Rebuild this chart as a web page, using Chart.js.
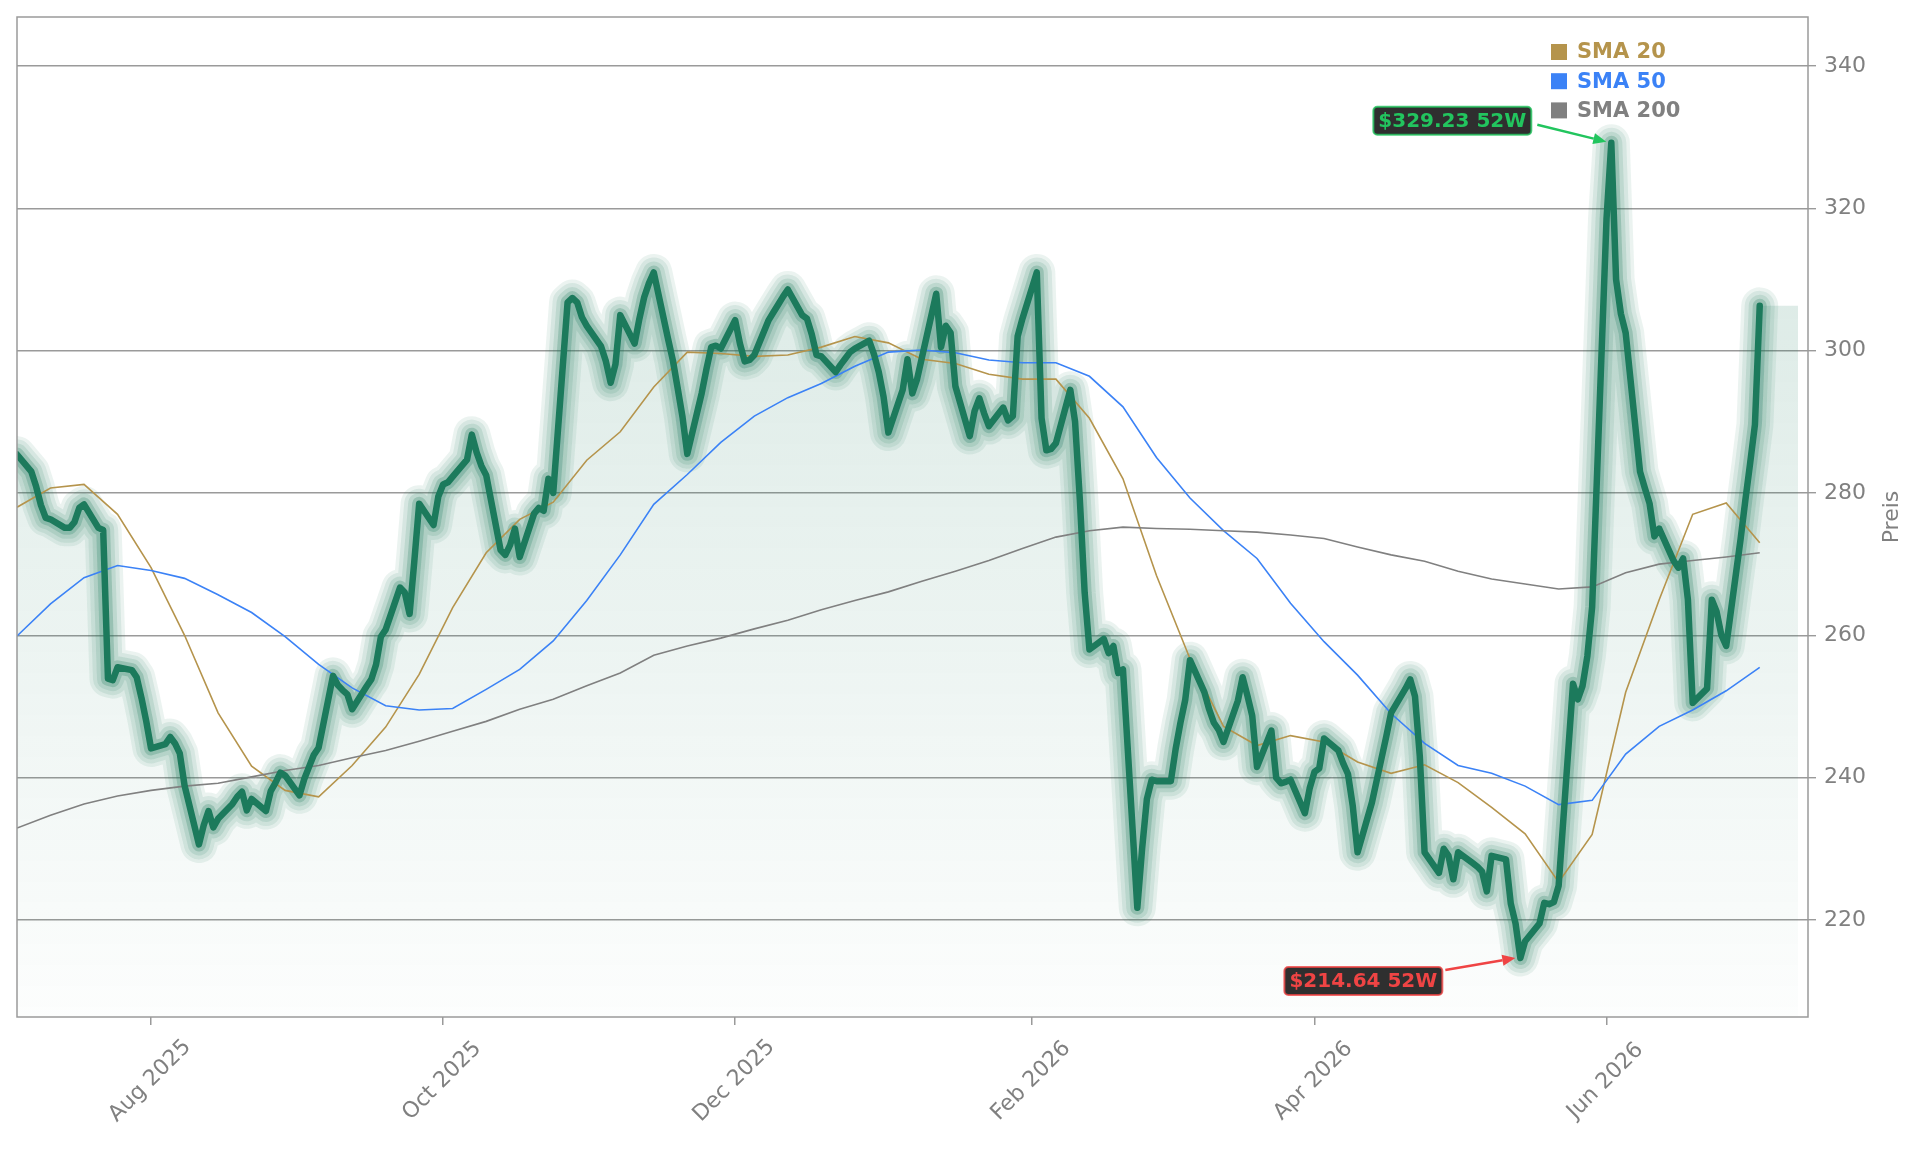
<!DOCTYPE html>
<html>
<head>
<meta charset="utf-8">
<title>Kursverlauf mit SMA</title>
<script src="https://cdn.jsdelivr.net/npm/chart.js@4.4.1/dist/chart.umd.min.js"></script>
<style>
  html, body { margin: 0; padding: 0; background: #fff; }
</style>
</head>
<body>
<canvas id="chart" width="1921" height="1151"></canvas>

<script>
// Schlusskurse je Handelstag (Mo-Fr), ab Fr 04.07.2025
const priceStart = '2025-07-04';
const prices = [
  285.4,
  283.0, 280.9, 278.3, 276.5, 276.3,
  275.1, 275.1, 275.9, 277.9, 278.4,
  275.1, 274.8, 253.9, 253.7, 255.5,
  255.1, 254.1, 251.2, 247.9, 244.1,
  244.7, 245.7, 244.8, 243.4, 238.9,
  230.6, 233.3, 235.3, 233.0, 234.2,
  236.3, 237.3, 238.0, 235.4, 237.0,
  235.3, 238.1, 239.3, 240.7, 240.3,
  237.5, 239.8, 241.5, 243.2, 244.2,
  254.3, 253.0, 252.3, 251.7, 249.6,
  252.8, 253.8, 255.9, 259.8, 260.8,
  266.7, 266.0, 263.0, 270.5, 278.5,
  275.5, 279.5, 281.2, 281.5, 282.3,
  284.7, 288.2, 285.7, 283.8, 282.5,
  272.0, 271.3, 272.7, 275.0, 271.0,
  277.1, 277.9, 277.5, 282.0, 280.0,
  306.8, 307.4, 306.8, 304.7, 303.5,
  300.6, 298.5, 295.5, 298.1, 305.0,
  301.0, 304.5, 307.5, 309.5, 311.0,
  301.6, 298.6, 294.7, 290.7, 285.5,
  294.0, 297.4, 300.5, 300.7, 300.3,
  304.3, 301.0, 298.5, 298.7, 299.4,
  304.3, 305.4, 306.5, 307.6, 308.6,
  305.0, 304.5, 302.3, 299.4, 299.2,
  297.0, 298.0, 298.9, 299.8, 300.3,
  301.4, 299.5, 297.0, 293.5, 288.5,
  294.5, 298.8, 294.0, 296.0, 299.0,
  308.0, 300.5, 303.5, 302.5, 295.0,
  288.0, 291.5, 293.3, 291.2, 289.4,
  292.0, 290.2, 290.8, 302.0, 304.5,
  311.0, 290.5, 286.0, 286.2, 287.0,
  294.5, 290.0, 279.0, 266.0, 258.0,
  259.5, 257.5, 258.5, 254.7, 255.2,
  221.7, 230.0, 237.0, 239.7, 239.5,
  239.5, 244.0, 247.7, 250.9, 256.5,
  252.0, 249.6, 247.7, 246.7, 245.0,
  250.8, 254.1, 251.5, 248.7, 241.5,
  246.6, 240.0, 239.2, 239.4, 239.7,
  235.0, 238.5, 240.8, 241.3, 245.5,
  243.8, 242.0, 240.5, 236.0, 229.5,
  236.5, 239.6, 242.7, 245.8, 249.1,
  252.5, 253.8, 251.4, 243.0, 229.5,
  226.6, 230.0, 229.0, 225.7, 229.5,
  228.0, 227.5, 226.8, 224.0, 229.0,
  228.5, 222.3, 219.5, 214.64, 217.0,
  219.5, 222.4, 222.2, 222.5, 224.8,
  253.2, 251.0, 252.9, 257.1, 264.0,
  318.5, 329.23, 310.0, 305.2, 302.5,
  283.0, 280.7, 278.5, 273.9, 275.0,
  270.5, 269.5, 270.8, 265.0, 250.5,
  252.5, 265.0, 263.3, 260.0, 258.5,
  273.5, 279.0, 284.2, 289.6, 306.3
];

// gleitende Durchschnitte, jeweils freitags ab 04.07.2025
const smaStart = '2025-07-04';
const sma20 = [278.0, 280.7, 281.2, 277.0, 269.5, 260.0, 249.1, 241.6, 238.2, 237.3,
  241.7, 247.1, 254.5, 263.9, 271.6, 276.3, 278.7, 284.6, 288.6, 294.9,
  299.8, 299.6, 299.2, 299.4, 300.5, 302.0, 301.1, 298.8, 298.2, 296.7,
  296.0, 296.0, 290.5, 282.0, 268.4, 256.7, 247.2, 244.5, 245.9, 245.0,
  242.2, 240.6, 241.8, 239.3, 235.8, 232.1, 225.3, 232.0, 252.0, 265.0,
  277.0, 278.6, 273.0];
const sma50 = [259.9, 264.4, 268.1, 269.8, 269.1, 268.0, 265.7, 263.2, 259.8, 255.9,
  252.6, 250.1, 249.5, 249.7, 252.4, 255.2, 259.2, 264.9, 271.3, 278.4,
  282.6, 287.1, 290.8, 293.4, 295.4, 297.8, 299.8, 300.1, 299.7, 298.7,
  298.3, 298.3, 296.4, 292.1, 285.0, 279.3, 274.7, 270.8, 264.5, 259.1,
  254.4, 249.0, 244.8, 241.7, 240.6, 238.8, 236.2, 236.8, 243.3, 247.2,
  249.5, 252.2, 255.5];
const sma200 = [232.9, 234.7, 236.3, 237.4, 238.2, 238.8, 239.2, 240.1, 241.0, 241.7,
  242.8, 243.8, 245.1, 246.5, 247.9, 249.6, 251.0, 252.9, 254.7, 257.2,
  258.5, 259.6, 260.9, 262.1, 263.6, 264.9, 266.1, 267.6, 269.0, 270.5,
  272.2, 273.8, 274.7, 275.2, 275.0, 274.9, 274.7, 274.5, 274.1, 273.6,
  272.4, 271.3, 270.4, 269.0, 267.9, 267.2, 266.5, 266.8, 268.8, 270.0,
  270.5, 271.0, 271.6];

const yTicks = [220, 240, 260, 280, 300, 320, 340];
const xTickDates = ['2025-08-01', '2025-10-01', '2025-12-01', '2026-02-01', '2026-04-01', '2026-06-01'];
const xTickLabels = ['Aug 2025', 'Oct 2025', 'Dec 2025', 'Feb 2026', 'Apr 2026', 'Jun 2026'];
const legendLabels = ['SMA 20', 'SMA 50', 'SMA 200'];

const xMin = '2025-07-04T00:00:00Z';
const xMax = '2026-07-13T02:00:00Z';
const yMin = 206.35, yMax = 346.9;
const fillEnd = '2026-07-11';

const C = {
  price: '#1c7a5c',
  sma20: '#b5944c',
  sma50: '#3b82f6',
  sma200: '#808080',
  grid: '#9a9a9a',
  text: '#808080',
  up: '#22c55e',
  down: '#ef4444'
};
const FONT = '"DejaVu Sans", sans-serif';
const DAY = 86400000;

function ts(s) { return Date.parse(s.length > 10 ? s : s + 'T00:00:00Z'); }

// Handelstage (Mo-Fr) ab Startdatum
function weekdays(start, n) {
  const out = [];
  let t = ts(start);
  while (out.length < n) {
    const wd = new Date(t).getUTCDay();
    if (wd !== 0 && wd !== 6) out.push(t);
    t += DAY;
  }
  return out;
}

const priceX = weekdays(priceStart, prices.length);
const pricePts = prices.map((v, i) => ({x: priceX[i], y: v}));
const weekly = arr => arr.map((v, i) => ({x: ts(smaStart) + i * 7 * DAY, y: v}));
const fillPts = pricePts.concat([{x: ts(fillEnd), y: prices[prices.length - 1]}]);

// halbtransparente Striche fuer den Leuchteffekt
function glow(width, alpha) {
  return {
    data: pricePts, borderColor: 'rgba(28,122,92,' + alpha + ')', borderWidth: width,
    pointRadius: 0, fill: false, order: 6, borderJoinStyle: 'round', borderCapStyle: 'round'
  };
}

function drawTag(ctx, text, color, boxRight, cy) {
  ctx.font = 'bold 20px ' + FONT;
  const w = ctx.measureText(text).width + 10, h = 28;
  const left = boxRight - w, top = cy - h / 2;
  ctx.beginPath();
  ctx.roundRect(left, top, w, h, 4);
  ctx.fillStyle = '#2f2f2f';
  ctx.fill();
  ctx.lineWidth = 2;
  ctx.strokeStyle = color;
  ctx.globalAlpha = 0.8;
  ctx.stroke();
  ctx.globalAlpha = 1;
  ctx.fillStyle = color;
  ctx.textAlign = 'center';
  ctx.textBaseline = 'middle';
  ctx.fillText(text, left + w / 2, cy + 1);
}

function drawArrow(ctx, x1, y1, x2, y2, color) {
  const ang = Math.atan2(y2 - y1, x2 - x1), hl = 13, hw = 5.5;
  const bx = x2 - hl * Math.cos(ang), by = y2 - hl * Math.sin(ang);
  ctx.strokeStyle = color;
  ctx.fillStyle = color;
  ctx.lineWidth = 2.5;
  ctx.beginPath(); ctx.moveTo(x1, y1); ctx.lineTo(bx, by); ctx.stroke();
  ctx.beginPath();
  ctx.moveTo(x2, y2);
  ctx.lineTo(bx + hw * Math.sin(ang), by - hw * Math.cos(ang));
  ctx.lineTo(bx - hw * Math.sin(ang), by + hw * Math.cos(ang));
  ctx.closePath();
  ctx.fill();
}

const decor = {
  id: 'decor',
  afterDraw(chart) {
    const {ctx, chartArea: a, scales: {x, y}} = chart;
    ctx.save();

    // Rahmen
    ctx.strokeStyle = C.grid;
    ctx.lineWidth = 1.5;
    ctx.strokeRect(a.left, a.top, a.right - a.left, a.bottom - a.top);

    // x-Beschriftung, 45 Grad gedreht, mittig unter dem Tick
    ctx.fillStyle = C.text;
    ctx.font = '22px ' + FONT;
    ctx.textAlign = 'center';
    ctx.textBaseline = 'middle';
    x.ticks.forEach(t => {
      const px = x.getPixelForValue(t.value);
      ctx.save();
      ctx.translate(px - 1, a.bottom + 64);
      ctx.rotate(-Math.PI / 4);
      ctx.fillText(t.label, 0, 0);
      ctx.restore();
    });

    // Achsentitel rechts
    ctx.save();
    ctx.translate(1892, (a.top + a.bottom) / 2);
    ctx.rotate(-Math.PI / 2);
    ctx.fillText('Preis', 0, 0);
    ctx.restore();

    // Legende
    const legColors = [C.sma20, C.sma50, C.sma200];
    ctx.font = 'bold 21px ' + FONT;
    ctx.textAlign = 'left';
    legendLabels.forEach((lab, i) => {
      const cy = 52 + i * 29.2;
      ctx.fillStyle = legColors[i];
      ctx.fillRect(1551, cy - 8, 16, 16);
      ctx.fillText(lab, 1577, cy + 1);
    });

    // 52-Wochen-Hoch / -Tief
    let hi = 0, lo = 0;
    prices.forEach((v, i) => { if (v > prices[hi]) hi = i; if (v < prices[lo]) lo = i; });
    const hx = x.getPixelForValue(priceX[hi]), hy = y.getPixelForValue(prices[hi]);
    const lx = x.getPixelForValue(priceX[lo]), ly = y.getPixelForValue(prices[lo]);

    drawTag(ctx, '$' + prices[hi].toFixed(2) + ' 52W', C.up, hx - 80, hy - 22);
    drawArrow(ctx, hx - 74, hy - 18, hx - 5, hy - 1, C.up);
    drawTag(ctx, '$' + prices[lo].toFixed(2) + ' 52W', C.down, lx - 78, ly + 23);
    drawArrow(ctx, lx - 75, ly + 12, lx - 5, ly, C.down);

    ctx.restore();
  }
};

new Chart(document.getElementById('chart'), {
  type: 'line',
  data: {
    datasets: [
      {
        data: fillPts, borderWidth: 0, pointRadius: 0, order: 10, fill: 'start',
        backgroundColor(ctx) {
          const area = ctx.chart.chartArea;
          if (!area) return 'rgba(28,122,92,0.08)';
          const g = ctx.chart.ctx.createLinearGradient(0, area.top, 0, area.bottom);
          g.addColorStop(0, 'rgba(28,122,92,0.20)');
          g.addColorStop(1, 'rgba(28,122,92,0.01)');
          return g;
        }
      },
      glow(37, 0.09), glow(30, 0.1), glow(22, 0.13), glow(14, 0.24),
      { data: weekly(sma200), borderColor: C.sma200, borderWidth: 1.6, pointRadius: 0, fill: false, order: 3 },
      { data: weekly(sma50), borderColor: C.sma50, borderWidth: 1.6, pointRadius: 0, fill: false, order: 3 },
      { data: weekly(sma20), borderColor: C.sma20, borderWidth: 1.6, pointRadius: 0, fill: false, order: 3 },
      {
        data: pricePts, borderColor: C.price, borderWidth: 6.5, pointRadius: 0, fill: false, order: 1,
        borderJoinStyle: 'round', borderCapStyle: 'round'
      }
    ]
  },
  options: {
    responsive: false,
    animation: false,
    devicePixelRatio: 1,
    layout: { padding: { left: 17, top: 17, right: 0, bottom: 0 } },
    plugins: { legend: { display: false }, tooltip: { enabled: false } },
    scales: {
      x: {
        type: 'linear',
        min: ts(xMin), max: ts(xMax),
        border: { display: false },
        grid: { drawOnChartArea: false, drawTicks: true, tickLength: 8, color: C.grid, lineWidth: 1.5 },
        ticks: { display: false, callback: (v, i) => xTickLabels[i] },
        afterBuildTicks(s) { s.ticks = xTickDates.map(d => ({value: ts(d)})); },
        afterFit(s) { s.height = 134; s.paddingLeft = 0; s.paddingRight = 0; }
      },
      y: {
        position: 'right',
        min: yMin, max: yMax,
        border: { display: false },
        grid: { color: C.grid, lineWidth: 1.4, tickLength: 8, drawTicks: true },
        ticks: { color: C.text, padding: 8, font: { family: FONT, size: 22 } },
        afterBuildTicks(s) { s.ticks = yTicks.map(v => ({value: v})); },
        afterFit(s) { s.width = 113; s.paddingTop = 0; s.paddingBottom = 0; }
      }
    }
  },
  plugins: [decor]
});
</script>
</body>
</html>
